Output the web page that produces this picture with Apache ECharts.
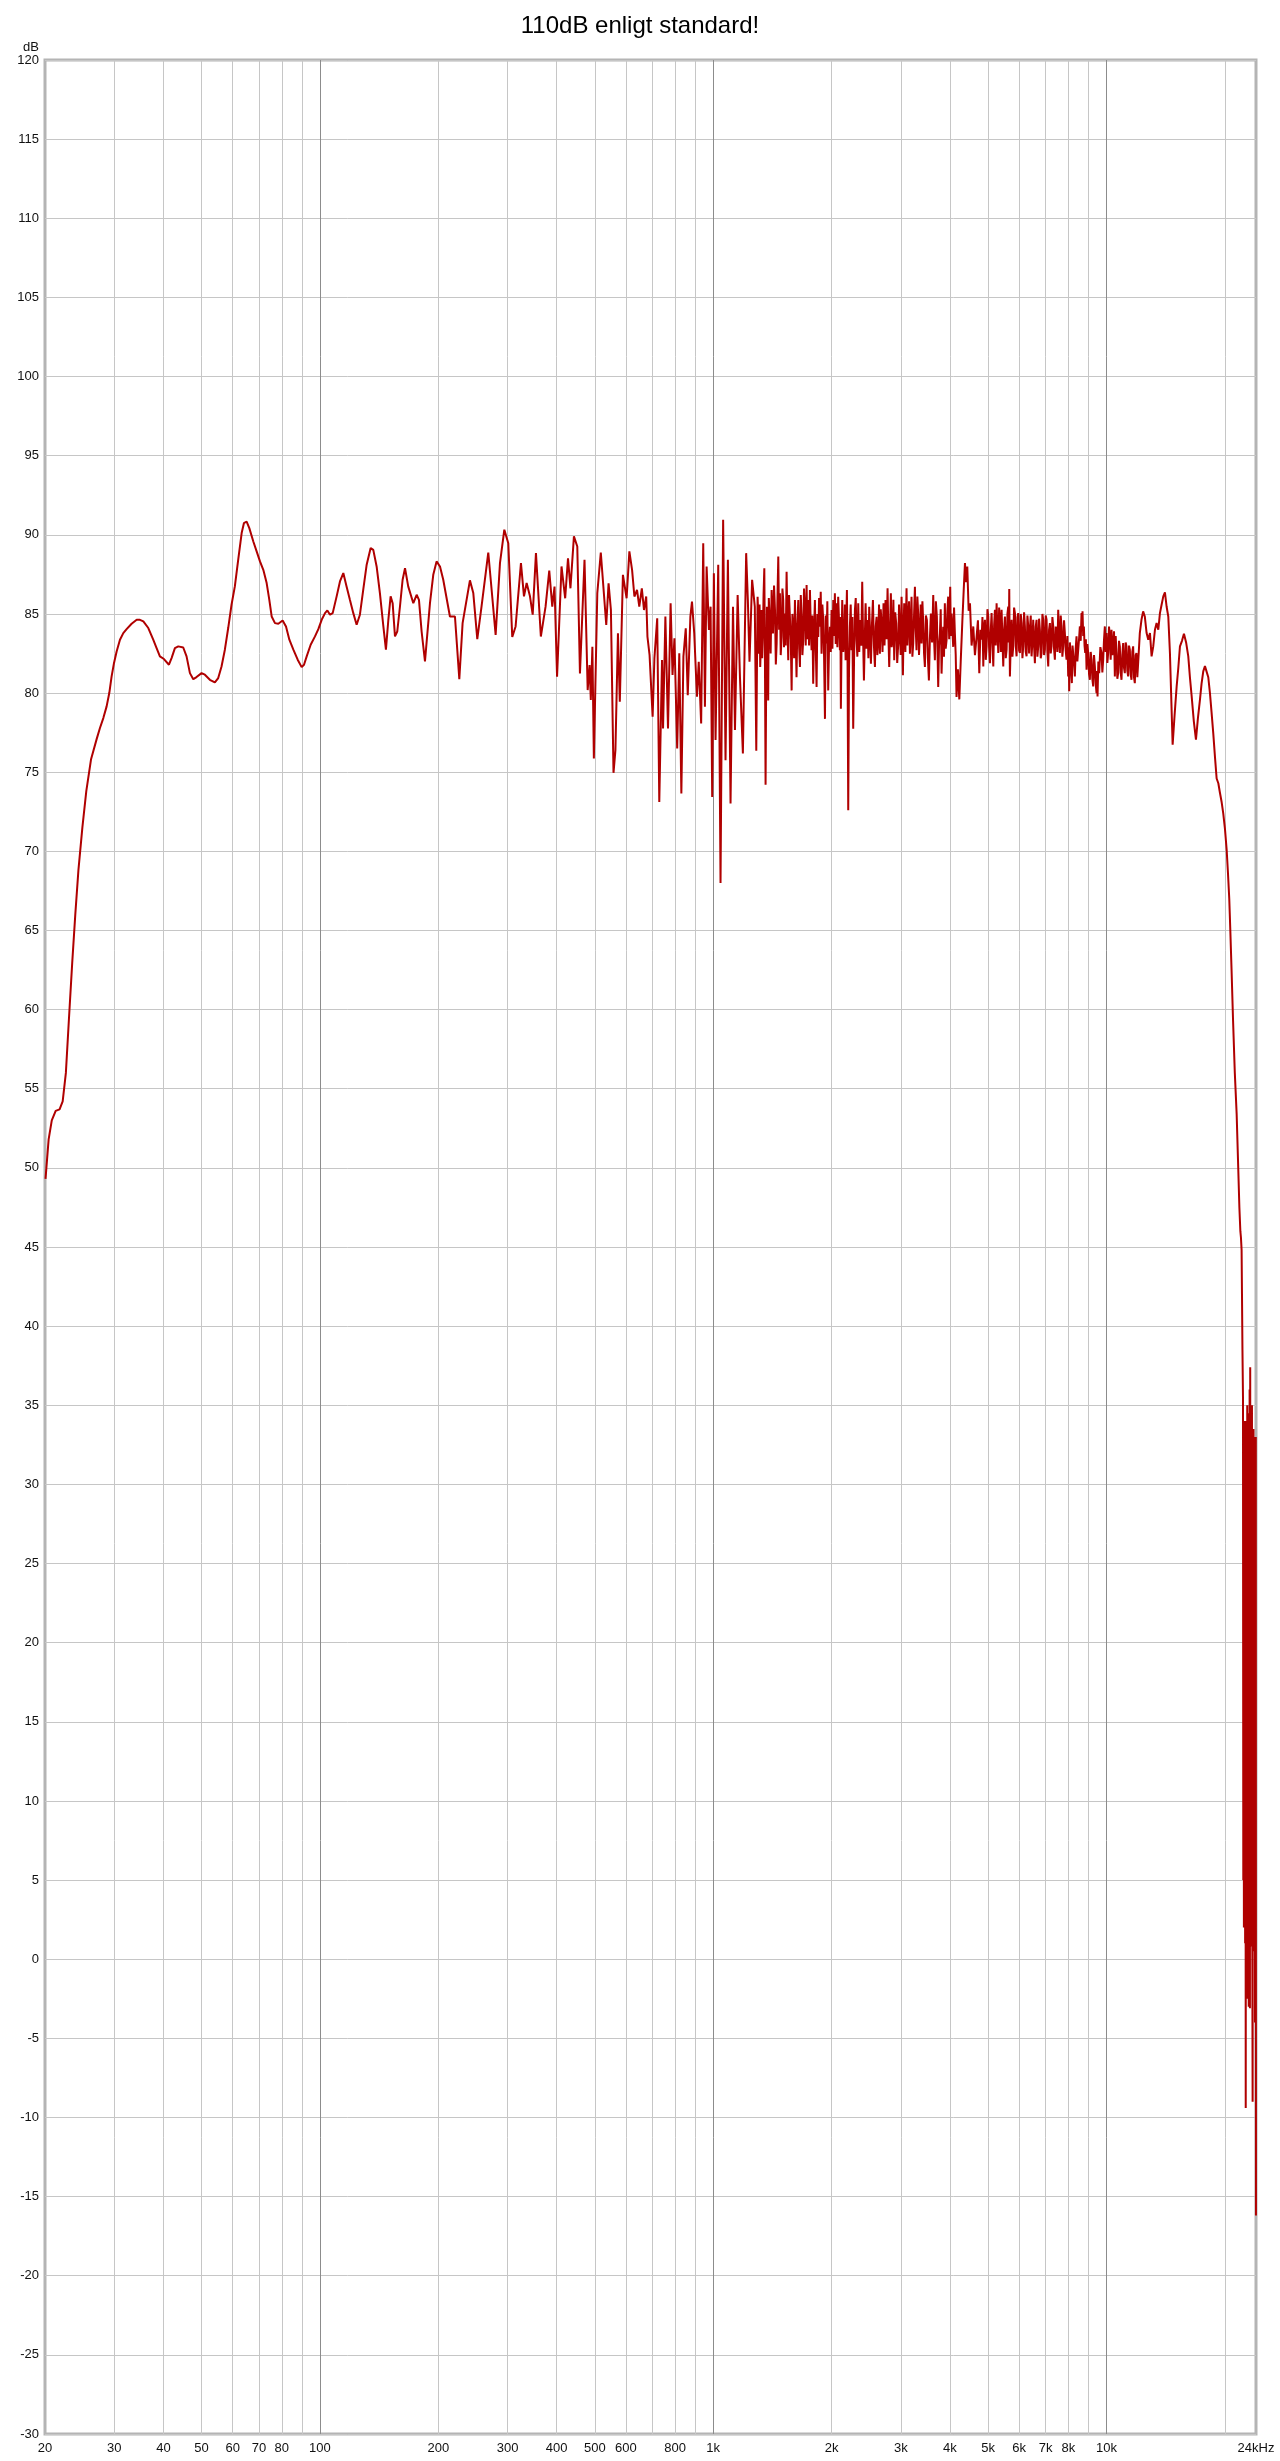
<!DOCTYPE html>
<html><head><meta charset="utf-8">
<script src="https://cdn.jsdelivr.net/npm/echarts@6/dist/echarts.min.js"></script>
<style>html,body{margin:0;padding:0;background:#fff}#chart{width:1280px;height:2461px}</style>
</head><body><div id="chart"></div>
<script>
// Frequency response readings: [frequency Hz, level dB]
const bassPts = [[20.06,49.3],[20.43,51.8],[20.81,53.0],[21.29,53.6],[21.78,53.7],[22.18,54.2],[22.6,56.0],[23.02,59.5],[23.46,63.0],[23.88,66.0],[24.32,68.8],[24.89,71.5],[25.47,73.8],[26.18,75.8],
[27.06,77.09],[27.59,77.79],[28.14,78.42],[28.69,79.16],[29.14,80.0],[29.54,81.05],[29.95,81.89],[30.42,82.63],[31.02,83.37],[31.63,83.79],[32.25,84.04],[33.21,84.38],[34.21,84.63],[34.87,84.63],[35.57,84.53],[36.62,84.11],[37.69,83.37],[38.44,82.84],[39.19,82.32],[40.13,82.15],[41.32,81.79],[41.96,82.21],[42.79,82.84],[43.65,82.95],[44.93,82.88],[45.81,82.32],[46.72,81.26],[47.65,80.88],[48.57,81.01],[50.02,81.26],[51.0,81.16],[52.51,80.84],[54.07,80.67],[55.14,80.95],[56.22,81.68],[57.33,82.74],[58.46,84.11],[59.61,85.58],[60.78,86.74],[61.98,88.42],[63.25,90.11],[64.11,90.74],[65.12,90.84],[66.15,90.42],[67.72,89.58],[69.05,88.95],[70.41,88.32],[71.8,87.79],[73.22,86.95],[74.37,85.89],[75.4,84.84],[76.87,84.42],[78.39,84.38],[80.4,84.59],[82.0,84.21],[83.63,83.37],[85.61,82.74],[87.81,82.11],[89.87,81.64],[91.12,81.79],[92.56,82.32],[94.74,83.05],[97.17,83.58],[99.09,84.04],[101.05,84.63],[103.05,85.05],[104.46,85.22],[106.1,84.95],[107.78,85.05],[110.3,86.11],[112.47,87.05],[114.7,87.58],[116.9,86.74],[119.2,85.89],[121.6,85.05],[124.0,84.32],[126.4,84.95],[128.9,86.53],[131.5,88.11],[134.6,89.16],[136.7,89.05],[139.4,88.0],[142.1,86.32],[145.0,84.21],[147.2,82.74],[149.3,84.63],[151.3,86.11],[153.1,85.68],[155.2,83.58],[157.3,83.89],[159.8,85.47],[162.3,87.16],[164.6,87.89]];

const lowMidPts = [[167.7,86.74],[172.8,85.68],[176.2,86.21],[178.6,85.89],[181.4,83.89],[185.0,82.0],[190.5,85.68],[194.2,87.47],[198.0,88.32],[202.0,88.0],[205.9,87.16],[214.1,84.84],[220.5,84.84],[226.2,80.88],[230.6,84.42],[240.7,87.12],[245.5,86.32],[251.3,83.41],[257.8,85.52],[268.0,88.88],[273.3,86.53],[279.8,83.68],[287.0,88.21],[294.4,90.32],[301.3,89.47],[308.4,83.54],[314.5,84.21],[324.5,88.21],[330.3,86.11],[335.5,86.95],[342.1,86.11],[347.6,84.95],[354.3,88.84]];

const midPts = [[364.6,83.57],[374.8,85.46],[383,87.74],[389.8,85.46],[395,86.73],[400.9,81.03],[411.5,88.0],[420.4,85.99],[427.4,88.52],[433.6,86.62],[442.5,89.9],[451.3,89.26],[458.4,81.24],[470.8,88.42],[479.6,80.19],[485,81.77],[488.5,79.56],[493,82.93],[497.3,75.86],[507.4,86.31],[517.9,88.88],[534.7,84.3],[542,86.94],[549.5,85.25],[557.9,74.96],[564.2,76.39],[572.6,83.78],[578.9,79.45],[589.5,87.47],[602.4,85.99],[612.2,88.95],[622,87.78],[630.5,86.1],[640.2,86.52],[648.8,85.46],[658.5,86.62],[667,85.25],[675.6,86.1],[680.5,83.57],[689,82.41],[701.5,78.5],[708.8,82.19],[720.6,84.73],[729.4,73.12],[741.2,82.09],[745.6,77.76],[755.9,84.83],[767.6,77.76],[779.4,85.68],[788.2,81.14],[797,83.46],[810,76.5],[820,82.51],[830,73.65],[840,82.3],[851.7,84.09],[861.7,79.87],[875,84.83],[883.3,85.78],[895,83.78],[909.4,79.77],[918.9,81.98],[932,78.08],[943.4,89.47],[952.8,79.14],[962.3,88.0],[975.5,83.99],[984.9,85.46],[994.3,73.44],[1004,87.57],[1014,77.03],[1030,88.1],[1044,68.0],[1060,90.95],[1075,75.76],[1090,88.42],[1107,73.02],[1123,85.46],[1136,77.66],[1154,86.2],[1170,80.93],[1190,76.18],[1213,88.84],[1225,85.89],[1237,81.98],[1256,87.15],[1276,85.46]];

const upperMidPts = [[1287,76.36],[1292,81.5],[1297,86.09],[1302,84.8],[1307,82.49],[1312,85.6],[1317,81.65],[1322,83.0],[1327,85.24],[1332,82.2],[1338,83.76],[1343,86.2],[1349,87.89],[1354,82.0],[1359,74.2],[1364,81.0],[1370,85.45],[1375,83.2],[1380,79.53],[1385,86.0],[1391,84.82],[1400,82.5],[1408,86.51],[1413,84.9],[1419,83.76],[1428,86.8],[1436,85.24],[1443,81.8],[1450,83.13],[1457,86.0],[1464,88.63],[1471,84.0],[1478,86.3],[1485,82.4],[1493,83.55],[1500,86.6],[1507,85.88],[1514,82.9],[1522,85.03],[1529,83.0],[1537,87.67],[1544,84.6],[1552,82.07],[1559,86.2],[1567,84.82],[1575,83.4],[1583,80.17],[1590,85.0],[1598,84.19],[1606,82.2],[1614,85.88],[1621,83.5],[1629,81.0],[1637,84.3],[1646,85.88],[1654,82.9],[1662,81.65],[1670,86.2],[1678,84.82],[1686,82.4],[1694,83.34],[1702,86.6],[1711,85.24],[1719,83.0],[1728,86.83],[1736,83.4],[1745,85.88],[1753,83.0],[1762,86.51],[1770,84.4],[1779,82.71],[1787,84.9],[1796,80.59],[1805,83.8],[1814,85.88],[1823,82.9],[1832,80.38],[1841,85.0],[1850,83.55],[1859,86.0],[1868,84.19],[1877,86.4],[1886,82.49],[1895,85.6],[1905,84.61],[1914,82.3],[1924,78.37],[1933,84.9],[1942,83.13],[1951,85.8],[1961,80.17],[1971,83.0],[1981,84.19],[1990,82.6],[2000,85.24],[2010,82.8],[2020,85.88],[2029,83.6],[2039,86.3],[2049,83.1],[2059,85.67],[2069,82.9],[2079,86.09],[2090,84.5],[2100,82.71],[2106,84.8],[2112,79.01],[2120,83.0],[2129,85.88],[2141,82.6],[2154,83.34],[2162,85.6],[2171,82.07],[2179,84.3],[2188,86.51],[2196,82.0],[2205,72.6],[2215,81.5],[2226,84.19],[2237,85.6],[2248,82.71],[2259,84.8],[2270,77.74],[2281,82.0],[2293,85.24],[2304,86.0],[2315,83.34],[2326,82.3],[2338,85.67],[2352,82.6],[2366,84.61],[2380,83.0],[2393,87.04],[2405,83.6],[2417,80.8],[2429,83.4],[2441,85.67],[2455,82.8],[2469,84.61],[2481,82.2],[2493,85.45],[2505,83.9],[2518,81.86],[2533,84.3],[2548,85.88],[2563,83.0],[2578,81.65],[2590,84.2],[2603,84.82],[2615,82.4],[2628,83.34],[2641,85.6],[2654,82.49],[2667,85.3],[2680,84.4],[2695,82.6],[2711,85.67],[2727,83.0],[2743,85.88],[2760,83.4],[2776,86.62],[2790,83.6],[2803,81.65],[2816,84.0],[2830,86.3],[2844,82.9],[2858,83.34],[2872,85.9],[2886,82.07],[2903,85.1],[2920,84.4],[2937,81.9],[2955,83.13],[2969,85.6],[2983,83.76],[2998,82.4],[3013,86.09],[3025,83.6],[3037,81.12],[3048,84.0],[3060,85.67],[3081,82.6],[3102,86.62],[3117,83.0],[3132,84.61],[3148,85.8],[3164,82.49],[3179,84.1],[3194,86.09],[3210,82.3],[3226,83.13],[3242,85.0],[3258,86.72],[3273,84.1],[3289,82.71],[3305,86.1],[3321,85.03],[3337,82.4],[3354,83.76],[3370,85.6],[3387,83.13],[3404,85.8],[3421,84.4],[3437,82.5],[3454,81.65],[3474,84.9],[3495,84.61],[3515,82.2],[3536,80.8],[3556,83.4],[3577,85.03],[3602,83.2],[3627,86.19],[3644,83.4],[3662,82.07],[3683,85.8],[3705,84.82],[3719,82.6],[3734,80.38],[3752,83.0],[3771,83.76],[3789,85.3],[3808,81.23],[3826,83.0],[3845,84.19],[3863,82.3],[3882,85.67],[3901,82.8],[3921,83.34],[3940,85.2],[3959,86.09],[3982,83.4],[4006,86.72],[4021,83.6],[4037,85.03],[4057,84.0],[4077,82.92],[4097,85.4],[4117,83.76],[4137,82.4],[4157,79.75],[4190,81.5]];

const presencePts = [[4225,79.6],[4260,82.0],[4300,84.5],[4335,86.5],[4367,88.21],[4397,87.0],[4427,88.0],[4462,85.2],[4497,85.68],[4540,83.0],[4585,84.21],[4630,82.4],[4676,83.58],[4712,84.6],[4749,81.26],[4782,84.0],[4814,83.37],[4838,84.8],[4862,81.68],[4885,84.2],[4909,84.63],[4933,82.1],[4957,82.95],[4981,85.3],[5006,84.84],[5030,82.9],[5055,81.89],[5080,84.0],[5104,85.05],[5130,83.2],[5155,81.68],[5180,84.3],[5205,85.26],[5230,83.0],[5256,85.68],[5282,83.9],[5308,82.53],[5334,85.4],[5360,84.63],[5386,82.6],[5412,85.26],[5438,83.4],[5465,81.68],[5492,84.0],[5519,84.84],[5546,82.2],[5573,82.74],[5600,85.0],[5627,85.47],[5644,83.2],[5660,86.57],[5671,83.5],[5682,81.05],[5710,83.2],[5738,84.63],[5766,82.3],[5794,82.95],[5822,85.4],[5851,85.05],[5880,83.0],[5908,82.32],[5937,84.8],[5966,85.05],[5995,82.7],[6025,82.53],[6054,85.0],[6084,84.42],[6113,82.2],[6143,82.95],[6173,85.1],[6203,84.21],[6233,82.6],[6264,82.32],[6295,84.9],[6326,84.21],[6357,82.5],[6388,84.0],[6419,84.9],[6450,82.32],[6481,83.2],[6513,84.63],[6545,83.0],[6577,81.89],[6609,84.2],[6642,84.63],[6674,82.3],[6707,82.95],[6740,84.7],[6772,84.0],[6805,82.2],[6839,82.53],[6872,85.0],[6906,84.63],[6940,82.4],[6973,82.74],[7007,84.9],[7042,84.63],[7076,82.6],[7111,81.68],[7145,84.0],[7180,84.42],[7215,82.5],[7250,82.95],[7286,84.8],[7322,84.21],[7357,82.8],[7393,82.11],[7430,84.2],[7466,83.79],[7502,82.6],[7539,85.26],[7576,83.4],[7613,82.53],[7650,84.9],[7687,84.21],[7724,82.3],[7762,82.95],[7800,84.6],[7838,83.79],[7876,82.7],[7915,82.11],[7954,83.6],[7993,81.05],[8016,82.9],[8040,80.11],[8071,83.2],[8103,82.53],[8134,81.4],[8166,80.63],[8198,83.0],[8230,82.95],[8270,81.9],[8311,81.05],[8351,82.8],[8392,83.58],[8433,82.0],[8474,81.89],[8516,83.4],[8558,84.21],[8600,83.3],[8641,85.05],[8666,84.4],[8692,85.16],[8726,83.6],[8761,84.21],[8795,83.0],[8830,82.53],[8864,83.4],[8899,81.47],[8942,83.1],[8986,82.53],[9030,81.2],[9074,80.84],[9118,82.6],[9163,82.11],[9207,80.9],[9252,80.42],[9297,82.4],[9343,81.68],[9389,80.6],[9435,80.0],[9462,81.4],[9490,79.79],[9536,82.0],[9583,81.26],[9649,82.9],[9715,82.53],[9762,81.3],[9810,82.11],[9858,83.4],[9906,84.21],[9954,82.6],[10003,83.79],[10052,81.9],[10101,82.53],[10150,84.2],[10200,83.58],[10250,82.1],[10300,84.0],[10350,82.4],[10401,82.95],[10452,83.9],[10503,81.05],[10554,83.6],[10606,82.53],[10657,80.9],[10709,81.26],[10761,83.3],[10814,82.95],[10867,81.3],[10920,80.84],[10973,82.4],[11027,83.16],[11081,81.6],[11135,81.26],[11190,83.2],[11244,82.95],[11299,81.4],[11354,81.05],[11410,83.0],[11466,82.74],[11522,81.2],[11578,80.84],[11634,82.6],[11691,82.95],[11748,81.0],[11806,80.63],[11863,82.4],[11921,82.53],[11980,81.0],[12038,81.89],[12156,83.79],[12275,84.63],[12395,85.16],[12516,84.84],[12649,83.79],[12772,83.37],[12899,83.79],[13024,82.32],[13151,82.95],[13282,84.0],[13411,84.42],[13544,84.0],[13676,85.05],[13809,85.58],[13947,86.11],[14082,86.36],[14219,85.47],[14361,84.84],[14500,82.53]];

const airPts = [[14732,76.74],[14900,78.6],[15082,80.42],[15230,81.6],[15376,82.95],[15560,83.3],[15740,83.75],[15940,83.2],[16144,82.32],[16300,81.0],[16468,79.79],[16680,78.2],[16886,77.05],[17080,78.4],[17288,79.58],[17450,80.6],[17624,81.37],[17800,81.7],[17978,81.79],[18150,81.0],[18328,80.0],[18500,78.8],[18686,77.47],[18870,76.0],[19060,74.6],[19250,74.3],[19432,73.7],[19630,73.1],[19812,72.4],[20014,71.4],[20212,70.1],[20370,68.6],[20522,67.0],[20650,65.0],[20800,62.5],[20985,59.3],[21200,56.0],[21430,53.4],[21600,50.5],[21775,47.5],[21900,46.0],[21975,45.6],[22060,44.8],[22110,42.0],[22170,38.5]];

const edgePts = [[22240,35.5],[22280,5],[22320,33],[22360,2],[22400,34],[22440,8],[22480,31],[22520,1],[22560,33.5],[22600,-9.4],[22640,34],[22680,3],[22720,30],[22760,-2.5],[22800,35],[22840,0.5],[22880,32],[22920,1.5],[22960,34.5],[23000,-3],[23040,33],[23080,2],[23120,36],[23160,-3.1],[23200,37.4],[23240,1],[23280,34],[23320,4],[23360,33],[23400,0.8],[23440,35],[23480,2],[23530,-9.0],[23570,32],[23610,1],[23650,33.5],[23700,3],[23740,31],[23780,0.5],[23820,33],[23860,-4],[23900,32.5],[23940,2],[23970,33],[23995,-16.2]];

const xLabelValues = [20,30,40,50,60,70,80,100,200,300,400,500,600,800,1000,2000,3000,4000,5000,6000,7000,8000,10000,24000];
const xLabelTexts = ['20','30','40','50','60','70','80','100','200','300','400','500','600','800','1k','2k','3k','4k','5k','6k','7k','8k','10k','24kHz'];
const minorGridHz = [30,40,50,60,70,80,90,200,300,400,500,600,700,800,900,2000,3000,4000,5000,6000,7000,8000,9000,20000];
const decadeGridHz = [100,1000,10000];

const curve = [].concat(bassPts, lowMidPts, midPts, upperMidPts, presencePts, airPts, edgePts);
const FONT = '"Liberation Sans", Arial, sans-serif';
const chart = echarts.init(document.getElementById('chart'), null, {renderer: 'canvas'});

const gridMarks = minorGridHz.map(v => ({xAxis: v, lineStyle: {color: '#c6c6c6', width: 1, type: 'solid'}}))
  .concat(decadeGridHz.map(v => ({xAxis: v, lineStyle: {color: '#8c8c8c', width: 1, type: 'solid'}})));

const option = {
  animation: false,
  backgroundColor: '#ffffff',
  title: {text: '110dB enligt standard!', left: 'center', top: 9,
    textStyle: {fontFamily: FONT, fontSize: 24, fontWeight: 'normal', color: '#000'}},
  grid: {left: 45, right: 24, top: 60, bottom: 27, show: true, borderColor: '#b4b4b4', borderWidth: 3, backgroundColor: '#fff'},
  xAxis: {type: 'log', logBase: 10, min: 20, max: 24000,
    axisLine: {show: false}, axisTick: {show: false}, axisLabel: {show: false},
    splitLine: {show: false}, minorTick: {show: false}, minorSplitLine: {show: false}},
  yAxis: {type: 'value', min: -30, max: 120, interval: 5,
    name: 'dB', nameLocation: 'end', nameGap: 3,
    nameTextStyle: {fontFamily: FONT, fontSize: 13, color: '#111', align: 'right', padding: [0, 6, 0, 0]},
    axisLine: {show: false}, axisTick: {show: false},
    axisLabel: {fontFamily: FONT, fontSize: 13, color: '#111', margin: 6},
    splitLine: {show: true, lineStyle: {color: '#c6c6c6', width: 1}}},
  series: [
    {type: 'line', data: [], silent: true,
      markLine: {silent: true, symbol: ['none', 'none'], z: 1, animation: false, label: {show: false},
        emphasis: {disabled: true}, data: gridMarks}},
    {type: 'line', data: curve, showSymbol: false, symbol: 'none', z: 3, silent: true,
      lineStyle: {color: '#b00000', width: 2}}
  ]
};
chart.setOption(option);

const yBase = chart.convertToPixel({yAxisIndex: 0}, -30);
chart.setOption({
  graphic: xLabelValues.map((v, i) => ({
    type: 'text', silent: true,
    x: chart.convertToPixel({xAxisIndex: 0}, v), y: yBase + 8,
    style: {text: xLabelTexts[i], fontFamily: FONT, fontSize: 13, fill: '#111', align: 'center', verticalAlign: 'top'}
  }))
});
</script>
</body></html>
